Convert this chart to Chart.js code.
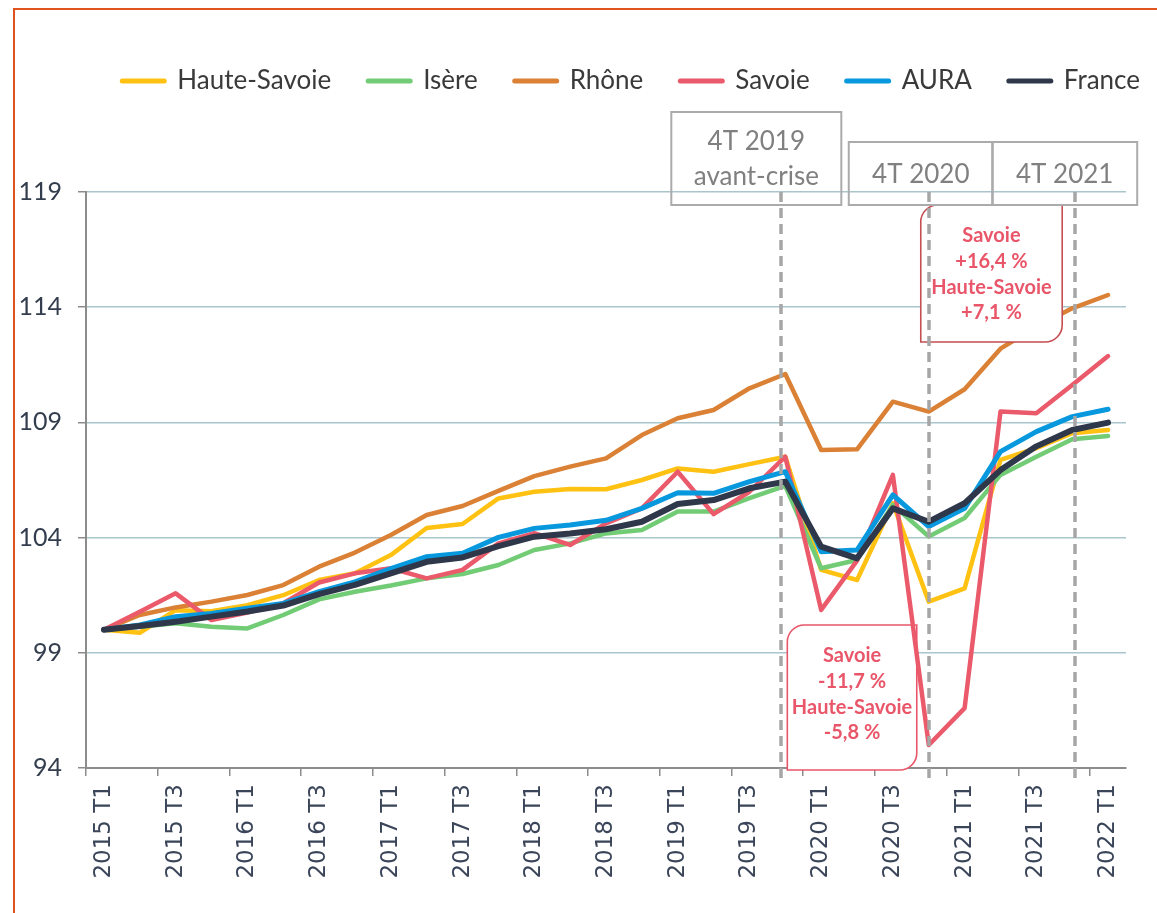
<!DOCTYPE html>
<html lang="fr">
<head>
<meta charset="utf-8">
<title>Emploi salarié - indice base 100</title>
<script src="https://cdn.jsdelivr.net/npm/chart.js@4.4.1/dist/chart.umd.min.js"></script>
<style>
  html, body { margin: 0; padding: 0; background: #fff; }
  #wrap { position: relative; width: 1157px; height: 913px; overflow: hidden; }
  #frame { position: absolute; left: 13px; top: 8px; right: -5px; bottom: -5px;
           border-left: 2px solid #E0531F; border-top: 2px solid #E0531F; pointer-events: none; }
  canvas { position: absolute; left: 0; top: 0; }
</style>
</head>
<body>
<div id="wrap">
  <canvas id="myChart" width="1157" height="913"></canvas>
  <div id="frame"></div>
</div>
<script>
// Data
const quarters = [
  "2015 T1", "2015 T2", "2015 T3", "2015 T4",
  "2016 T1", "2016 T2", "2016 T3", "2016 T4",
  "2017 T1", "2017 T2", "2017 T3", "2017 T4",
  "2018 T1", "2018 T2", "2018 T3", "2018 T4",
  "2019 T1", "2019 T2", "2019 T3", "2019 T4",
  "2020 T1", "2020 T2", "2020 T3", "2020 T4",
  "2021 T1", "2021 T2", "2021 T3", "2021 T4",
  "2022 T1"
];

const hauteSavoie = [100, 99.87, 100.85, 100.8, 101.07, 101.5, 102.16, 102.45, 103.24, 104.42, 104.59, 105.7, 105.99, 106.11, 106.1, 106.5, 107.0, 106.86, 107.19, 107.51, 102.6, 102.16, 105.49, 101.22, 101.8, 107.37, 107.88, 108.53, 108.67];
const isere = [100, 100.13, 100.28, 100.13, 100.06, 100.64, 101.32, 101.65, 101.92, 102.23, 102.42, 102.81, 103.46, 103.75, 104.18, 104.33, 105.13, 105.13, 105.71, 106.24, 102.67, 103.03, 105.42, 104.05, 104.85, 106.72, 107.51, 108.27, 108.41];
const rhone = [100, 100.64, 100.97, 101.22, 101.51, 101.94, 102.74, 103.35, 104.11, 104.98, 105.37, 106.03, 106.67, 107.08, 107.44, 108.45, 109.18, 109.54, 110.48, 111.1, 107.8, 107.83, 109.9, 109.47, 110.44, 112.2, 113.15, 113.95, 114.53];
const savoie = [100, 100.78, 101.58, 100.42, 100.75, 101.15, 102.05, 102.45, 102.67, 102.23, 102.6, 103.75, 104.19, 103.68, 104.62, 105.27, 106.86, 105.02, 105.99, 107.51, 100.86, 103.0, 106.72, 95.0, 96.6, 109.47, 109.4, 110.62, 111.88];
const aura = [100, 100.21, 100.57, 100.71, 100.93, 101.14, 101.65, 102.08, 102.65, 103.17, 103.32, 104.01, 104.4, 104.55, 104.75, 105.27, 105.95, 105.92, 106.43, 106.86, 103.39, 103.46, 105.85, 104.48, 105.27, 107.73, 108.6, 109.25, 109.57];
const france = [100, 100.16, 100.35, 100.57, 100.79, 101.05, 101.55, 101.95, 102.45, 102.95, 103.14, 103.63, 104.04, 104.18, 104.36, 104.69, 105.46, 105.63, 106.14, 106.43, 103.61, 103.1, 105.27, 104.69, 105.49, 106.93, 107.96, 108.67, 108.99];

const yTicks = [94, 99, 104, 109, 114, 119];

// Period markers (dashed lines) and their labels
const markerQuarters = ["2019 T4", "2020 T4", "2021 T4"];
const markerLabels = [["4T 2019", "avant-crise"], ["4T 2020"], ["4T 2021"]];

// Red notes
const noteDrop = ["Savoie", "-11,7 %", "Haute-Savoie", "-5,8 %"];
const noteRise = ["Savoie", "+16,4 %", "Haute-Savoie", "+7,1 %"];

const series = [
  { label: "Haute-Savoie", data: hauteSavoie, color: "#FFC112", width: 4.5 },
  { label: "Isère", data: isere, color: "#72CB75", width: 4.5 },
  { label: "Rhône", data: rhone, color: "#DA8135", width: 4.5 },
  { label: "Savoie", data: savoie, color: "#EA5A6A", width: 4.5 },
  { label: "AURA", data: aura, color: "#0898DD", width: 5 },
  { label: "France", data: france, color: "#2F384A", width: 6 }
];

const RED = "#E9566A";
const GREY = "#A6A6A6";
const AXIS = "#8C8C8C";

const xPix = (chart, q) => chart.scales.x.getPixelForValue(quarters.indexOf(q));

// box with rounded top-left and bottom-right corners
function noteBox(ctx, x0, y0, x1, y1, r) {
  ctx.beginPath();
  ctx.moveTo(x0 + r, y0);
  ctx.lineTo(x1, y0);
  ctx.lineTo(x1, y1 - r);
  ctx.arcTo(x1, y1, x1 - r, y1, r);
  ctx.lineTo(x0, y1);
  ctx.lineTo(x0, y0 + r);
  ctx.arcTo(x0, y0, x0 + r, y0, r);
  ctx.closePath();
}

function drawNote(ctx, lines, x0, y0, x1, y1, stroke) {
  ctx.save();
  noteBox(ctx, x0, y0, x1, y1, 17);
  ctx.fillStyle = "#fff";
  ctx.fill();
  ctx.lineWidth = 1.6;
  ctx.strokeStyle = stroke;
  ctx.stroke();
  ctx.fillStyle = RED;
  ctx.font = "bold 20px Lato";
  ctx.textAlign = "center";
  ctx.textBaseline = "middle";
  const cx = (x0 + x1) / 2;
  lines.forEach((t, i) => ctx.fillText(t, cx, y0 + 31 + i * 25.6));
  ctx.restore();
}

// Note under the lines (gridlines hidden, lines on top)
const lowNote = {
  id: "lowNote",
  beforeDatasetsDraw(chart) {
    const { ctx, chartArea } = chart;
    const x0 = xPix(chart, "2019 T4") + 2;
    const x1 = xPix(chart, "2020 T4") - 12;
    drawNote(ctx, noteDrop, x0, 625, x1, chartArea.bottom + 2, RED);
  }
};

// Note over the lines, then dashed markers and period boxes
const overlays = {
  id: "overlays",
  afterDatasetsDraw(chart) {
    const { ctx, chartArea } = chart;
    const top = chartArea.top;

    drawNote(ctx, noteRise, xPix(chart, "2020 T4") - 8, top + 13,
             xPix(chart, "2021 T4") - 10, top + 150, "#C44E52");

    // dashed markers, nudged a few px like the source
    const nudge = [-4, 0, 3];
    ctx.save();
    ctx.strokeStyle = GREY;
    ctx.lineWidth = 3.5;
    ctx.setLineDash([10, 6]);
    markerQuarters.forEach((q, i) => {
      const x = Math.round(xPix(chart, q)) + nudge[i];
      ctx.beginPath();
      ctx.moveTo(x, top);
      ctx.lineTo(x, chartArea.bottom + 12);
      ctx.stroke();
    });
    ctx.restore();

    // period label boxes (no fill)
    const boxes = [
      { x0: xPix(chart, "2019 T4") - 114, x1: xPix(chart, "2019 T4") + 56, y0: top - 80 },
      { x0: xPix(chart, "2020 T4") - 80, x1: xPix(chart, "2020 T4") + 64, y0: top - 50 },
      { x0: xPix(chart, "2021 T4") - 80, x1: xPix(chart, "2021 T4") + 65, y0: top - 50 }
    ];
    ctx.save();
    ctx.strokeStyle = "#ABABAB";
    ctx.lineWidth = 2;
    ctx.fillStyle = "#808080";
    ctx.font = "26px Lato";
    ctx.textAlign = "center";
    ctx.textBaseline = "middle";
    boxes.forEach((b, i) => {
      const y1 = top + 13;
      ctx.strokeRect(b.x0, b.y0, b.x1 - b.x0, y1 - b.y0);
      const lines = markerLabels[i];
      const cx = (b.x0 + b.x1) / 2;
      if (lines.length === 2) {
        ctx.fillText(lines[0], cx, b.y0 + 30);
        ctx.fillText(lines[1], cx, b.y0 + 65);
      } else {
        ctx.fillText(lines[0], cx, (b.y0 + y1) / 2 + 1);
      }
    });
    ctx.restore();
  }
};

// Legend drawn as line samples, right aligned
const lineLegend = {
  id: "lineLegend",
  afterDraw(chart) {
    const ctx = chart.ctx;
    const y = 81;
    const sample = 46, gap = 11, spacing = 35;
    ctx.save();
    ctx.font = "26px Lato";
    ctx.textBaseline = "middle";
    let x = 1140;
    for (let i = series.length - 1; i >= 0; i--) {
      const s = series[i];
      const w = ctx.measureText(s.label).width;
      const tx = x - w;
      ctx.fillStyle = "#3A3A3A";
      ctx.fillText(s.label, tx, y);
      ctx.beginPath();
      ctx.strokeStyle = s.color;
      ctx.lineWidth = 5;
      ctx.lineCap = "round";
      ctx.moveTo(tx - gap - sample + 2, y);
      ctx.lineTo(tx - gap - 2, y);
      ctx.stroke();
      x = tx - gap - sample - spacing;
    }
    ctx.restore();
  }
};

const chartdata = document.getElementById("myChart");

var myChart = new Chart(chartdata, {
  type: "line",
  data: {
    labels: quarters,
    datasets: series.map((s, i) => ({
      label: s.label,
      data: s.data,
      borderColor: s.color,
      backgroundColor: s.color,
      borderWidth: s.width,
      borderCapStyle: "round",
      borderJoinStyle: "round",
      pointRadius: 0,
      tension: 0,
      fill: false,
      order: series.length - i
    }))
  },
  options: {
    responsive: false,
    animation: false,
    layout: { padding: { top: 192, right: 31, bottom: 0, left: 0 } },
    plugins: {
      legend: { display: false },
      tooltip: { enabled: false }
    },
    scales: {
      x: {
        offset: true,
        grid: {
          display: true,
          offset: true,
          drawOnChartArea: false,
          drawTicks: true,
          tickLength: 8,
          color: AXIS,
          tickColor: (c) => (c.index % 2 === 0 ? AXIS : "rgba(0,0,0,0)"),
          lineWidth: 1.5
        },
        border: { display: true, color: AXIS, width: 2 },
        ticks: {
          autoSkip: false,
          minRotation: 90,
          maxRotation: 90,
          padding: 8,
          color: "#3B4559",
          font: { family: "DejaVu Sans", size: 23 },
          callback: (val, idx) => (idx % 2 === 0 ? quarters[idx] : "")
        },
        afterFit: (scale) => { scale.height = 145; }
      },
      y: {
        min: 94,
        max: 119,
        afterBuildTicks: (axis) => { axis.ticks = yTicks.map(v => ({ value: v })); },
        grid: {
          color: "#A9C6CD",
          lineWidth: 1.5,
          tickLength: 8,
          tickColor: AXIS
        },
        border: { display: true, color: AXIS, width: 2 },
        ticks: {
          padding: 16,
          color: "#333D4D",
          font: { family: "Lato", size: 25 }
        },
        afterFit: (scale) => { scale.width = 86; }
      }
    }
  },
  plugins: [lowNote, overlays, lineLegend]
});
</script>
</body>
</html>
